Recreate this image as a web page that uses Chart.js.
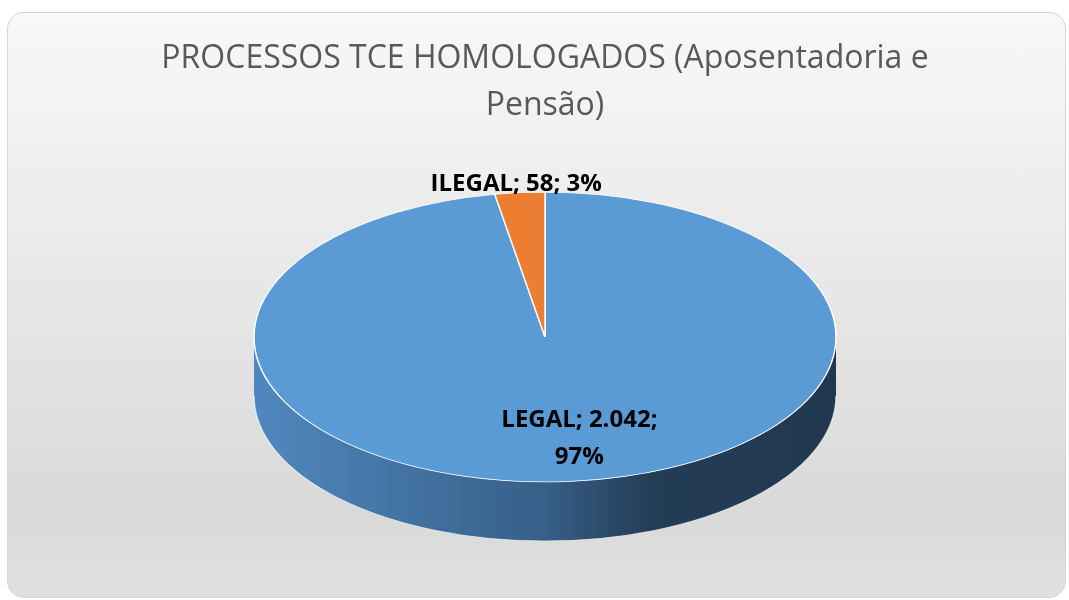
<!DOCTYPE html>
<html>
<head>
<meta charset="utf-8">
<script src="https://cdn.jsdelivr.net/npm/chart.js@4.4.1/dist/chart.umd.min.js"></script>
<style>
    html, body { margin: 0; padding: 0; background: #ffffff; }
    body { width: 1069px; height: 600px; position: relative; overflow: hidden; }
    .card {
        position: absolute; left: 7px; top: 12px; width: 1057px; height: 584px;
        border: 1px solid #d6d6d6; border-radius: 17px;
        background: linear-gradient(to bottom, #f8f8f8 0%, #ececec 35%, #d9d9d9 85%, #e0e0e0 100%);
    }
    #pieChart { position: absolute; left: 0; top: 0; }
</style>
</head>
<body>
<div class="card"></div>
<canvas id="pieChart" width="1069" height="600"></canvas>
<script>
// --- Data ---
const titleLines = ['PROCESSOS TCE HOMOLOGADOS (Aposentadoria e', 'Pensão)'];
const categories = ['LEGAL', 'ILEGAL'];
const values = [2042, 58];
const sliceColors = ['#5b9bd5', '#ed7d31'];

// --- 3D look settings ---
const tilt = 0.498;      // vertical squash of the pie face
const depth = 59;        // height of the side wall, screen px

function formatNumber(num) {
    return num.toString().replace(/\B(?=(\d{3})+(?!\d))/g, ".");
}

// side wall gradient per slice colour
const sideStops = {
    '#5b9bd5': [[0, '#5088bf'], [0.5, '#375f88'], [0.68, '#243d57'], [1, '#213850']],
    '#ed7d31': [[0, '#d06a25'], [0.5, '#a0521c'], [1, '#6f3a14']]
};

const pie3d = {
    id: 'pie3d',
    beforeDatasetsDraw(chart) {
        const ctx = chart.ctx;
        const arcs = chart.getDatasetMeta(0).data;
        if (!arcs.length) return;
        const cx = arcs[0].x, cy = arcs[0].y;
        ctx.save();
        ctx.translate(cx, cy);
        ctx.scale(1, tilt);
        ctx.translate(-cx, -cy);
        const d = depth / tilt;
        arcs.forEach((arc, i) => {
            const {x, y, outerRadius, startAngle, endAngle} = arc.getProps(['x', 'y', 'outerRadius', 'startAngle', 'endAngle']);
            [-2 * Math.PI, 0, 2 * Math.PI].forEach(shift => {
                const a0 = Math.max(startAngle + shift, 0);
                const a1 = Math.min(endAngle + shift, Math.PI);
                if (a1 <= a0) return;
                const grad = ctx.createLinearGradient(x - outerRadius, 0, x + outerRadius, 0);
                (sideStops[sliceColors[i]] || [[0, sliceColors[i]], [1, sliceColors[i]]]).forEach(s => grad.addColorStop(s[0], s[1]));
                ctx.beginPath();
                ctx.arc(x, y, outerRadius, a0, a1);
                ctx.arc(x, y + d, outerRadius, a1, a0, true);
                ctx.closePath();
                ctx.fillStyle = grad;
                ctx.fill();
                ctx.beginPath();
                ctx.arc(x, y + d, outerRadius, a0, a1);
                ctx.lineWidth = 1.5;
                ctx.strokeStyle = 'rgba(255,255,255,0.6)';
                ctx.stroke();
            });
        });
    },
    afterDatasetsDraw(chart) {
        const ctx = chart.ctx;
        ctx.restore();
        const meta = chart.getDatasetMeta(0);
        const total = values.reduce((a, b) => a + b, 0);
        ctx.save();
        ctx.fillStyle = '#000000';
        ctx.font = 'bold 24px "Open Sans", sans-serif';
        ctx.textAlign = 'center';
        ctx.textBaseline = 'middle';
        meta.data.forEach((arc, i) => {
            const {x, y, outerRadius, startAngle, endAngle} = arc.getProps(['x', 'y', 'outerRadius', 'startAngle', 'endAngle']);
            const mid = (startAngle + endAngle) / 2;
            const pct = Math.round(values[i] / total * 100) + '%';
            const text = `${categories[i]}; ${formatNumber(values[i])}; ${pct}`;
            const small = values[i] / total < 0.1;
            const f = small ? 1.1 : 0.69;
            const lx = x + Math.cos(mid) * outerRadius * f + (small ? -1 : 17);
            const ly = y + Math.sin(mid) * outerRadius * f * tilt + (small ? 6 : 1);
            if (small) {
                ctx.fillText(text, lx, ly);
            } else {
                ctx.fillText(`${categories[i]}; ${formatNumber(values[i])};`, lx, ly - 18);
                ctx.fillText(pct, lx, ly + 19);
            }
        });
        ctx.restore();
    }
};

new Chart(document.getElementById('pieChart'), {
    type: 'pie',
    data: {
        labels: categories,
        datasets: [{
            data: values,
            backgroundColor: sliceColors,
            borderColor: '#ffffff',
            borderWidth: 1.5,
            clip: false
        }]
    },
    options: {
        responsive: false,
        animation: false,
        events: [],
        radius: 291,
        layout: { padding: { left: 21, right: 0, top: 0, bottom: 65 } },
        plugins: {
            legend: { display: false },
            tooltip: { enabled: false },
            title: {
                display: true,
                text: titleLines,
                color: '#595959',
                font: { family: '"Open Sans", sans-serif', size: 32, weight: 'normal', lineHeight: 1.47 },
                padding: { top: 35, bottom: 10 }
            }
        }
    },
    plugins: [pie3d]
});
</script>
</body>
</html>
